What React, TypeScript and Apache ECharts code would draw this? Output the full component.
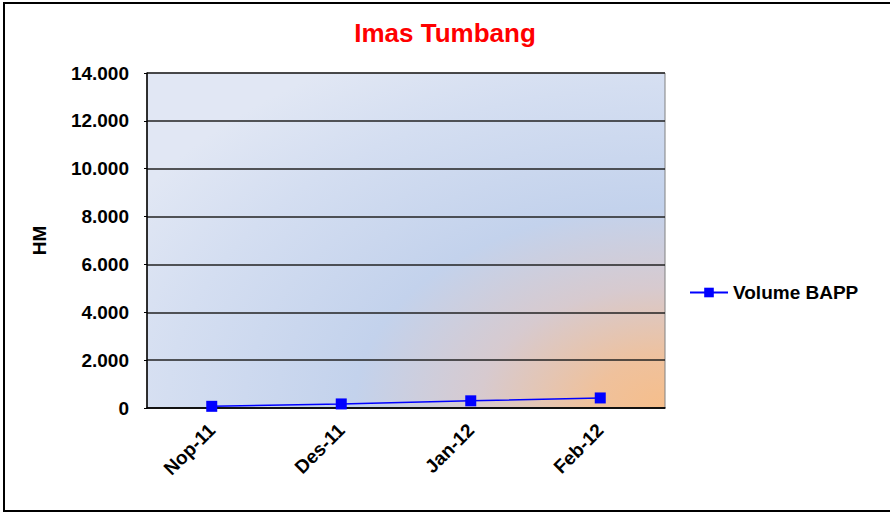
import React, { useEffect, useRef } from "react";
import * as echarts from "echarts";

const categories = ["Nop-11", "Des-11", "Jan-12", "Feb-12"];
const volumeBAPP = [70, 170, 300, 420];
const seriesName = "Volume BAPP";
const titleText = "Imas Tumbang";
const yAxisName = "HM";
const yMin = 0;
const yMax = 14000;
const yInterval = 2000;

function fmt(v: number): string {
  const s = String(Math.round(v));
  return s.replace(/\B(?=(\d{3})+(?!\d))/g, ".");
}

export default function App() {
  const ref = useRef<HTMLDivElement>(null);
  useEffect(() => {
    if (!ref.current) return;
    const chart = echarts.init(ref.current, null, { renderer: "svg" });
    const font = "'Liberation Sans', Arial, sans-serif";
    chart.setOption({
      animation: false,
      backgroundColor: "#ffffff",
      title: {
        text: titleText,
        left: "center",
        top: 15,
        textStyle: { color: "#ff0000", fontSize: 26, fontWeight: "bold", fontFamily: font },
      },
      grid: {
        left: 147,
        right: 225,
        top: 73,
        bottom: 105,
        show: true,
        borderColor: "#808080",
        borderWidth: 1,
        backgroundColor: {
          type: "radial",
          x: 1,
          y: 1,
          r: 1.2,
          colorStops: [
            { offset: 0, color: "#f6be8b" },
            { offset: 0.12, color: "#efc19c" },
            { offset: 0.3, color: "#d7cacf" },
            { offset: 0.5, color: "#c3d2ec" },
            { offset: 0.8, color: "#d4def1" },
            { offset: 1, color: "#e1e7f4" },
          ],
        },
      },
      legend: {
        left: 684,
        top: 278,
        itemWidth: 38,
        itemHeight: 12,
        itemGap: 10,
        textStyle: { color: "#000", fontSize: 19, fontWeight: "bold", fontFamily: font },
        data: [seriesName],
      },
      xAxis: {
        type: "category",
        data: categories,
        boundaryGap: true,
        axisLine: { lineStyle: { color: "#000", width: 1.5 } },
        axisTick: { show: false },
        axisLabel: {
          rotate: 45,
          margin: 19,
          color: "#000",
          fontSize: 19,
          fontWeight: "bold",
          fontFamily: font,
        },
      },
      yAxis: {
        type: "value",
        min: yMin,
        max: yMax,
        interval: yInterval,
        name: yAxisName,
        nameLocation: "middle",
        nameGap: 98,
        nameRotate: 90,
        nameTextStyle: { color: "#000", fontSize: 19, fontWeight: "bold", fontFamily: font },
        axisLine: { show: true, lineStyle: { color: "#000", width: 1.5 } },
        axisTick: { show: true, length: 3, lineStyle: { color: "#000" } },
        splitLine: { show: true, lineStyle: { color: "#222", width: 1.5 } },
        axisLabel: {
          margin: 18,
          color: "#000",
          fontSize: 19,
          fontWeight: "bold",
          fontFamily: font,
          formatter: (v: number) => fmt(v),
        },
      },
      series: [
        {
          name: seriesName,
          type: "line",
          data: volumeBAPP,
          symbol: "rect",
          symbolSize: 11,
          lineStyle: { color: "#0000ff", width: 1.5 },
          itemStyle: { color: "#0000ff" },
        },
      ],
      graphic: [
        {
          type: "rect",
          shape: { x: 4, y: 3, width: 950, height: 508 },
          style: { fill: "none", stroke: "#000", lineWidth: 2 },
          silent: true,
          z: 100,
        },
      ],
    });
    return () => chart.dispose();
  }, []);
  return (
    <div
      ref={ref}
      style={{ position: "fixed", left: 0, top: 0, width: 890, height: 513 }}
    />
  );
}
